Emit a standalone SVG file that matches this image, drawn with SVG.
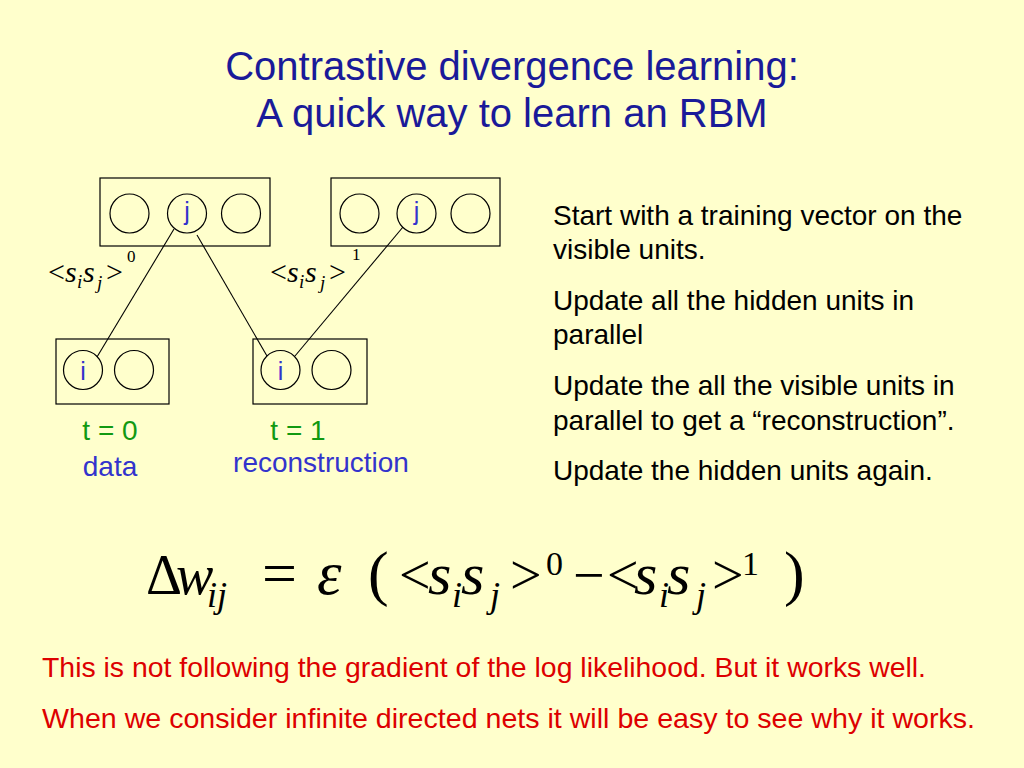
<svg xmlns="http://www.w3.org/2000/svg" width="1024" height="768" viewBox="0 0 1024 768">
<style>
.box{fill:none;stroke:#000;stroke-width:1.2}
.unit{fill:none;stroke:#000;stroke-width:1.2}
.con{stroke:#000;stroke-width:1.1;fill:none}
.sans{font-family:"Liberation Sans",Arial,sans-serif}
.serif{font-family:"Liberation Serif","Times New Roman",serif}
.title{font-size:40px;fill:#1a1a99;text-anchor:middle}
.lbl{font-size:28px;fill:#3333cc;text-anchor:middle}
.t{font-size:28px;fill:#119911;text-anchor:middle}
.body{font-size:28px;fill:#000}
.red{font-size:28px;fill:#dd0000}
.it{font-style:italic}
.sub{font-size:36px;font-style:italic}
.sup{font-size:34px}
.lsub{font-size:19px;font-style:italic}
.lsup{font-size:17px}
</style>
<rect width="1024" height="768" fill="#ffffcc"/>
<g id="title" class="sans">
<text class="title" x="512" y="80">Contrastive divergence learning:</text>
<text class="title" x="512" y="127">A quick way to learn an RBM</text>
</g>
<g id="connectors">
<line class="con" x1="174" y1="229" x2="97" y2="357"/>
<line class="con" x1="197" y1="235" x2="267" y2="356"/>
<line class="con" x1="403" y1="227" x2="295" y2="356"/>
</g>
<g id="hidden-t0">
<rect class="box" x="100" y="178" width="170" height="68"/>
<circle class="unit" cx="129.5" cy="213.5" r="19.5"/>
<circle class="unit" cx="187" cy="213.5" r="19.5"/>
<circle class="unit" cx="241" cy="213.5" r="19.5"/>
<text class="sans lbl" x="187" y="220" style="font-size:25px">j</text>
</g>
<g id="hidden-t1">
<rect class="box" x="331" y="178" width="169" height="68"/>
<circle class="unit" cx="359.5" cy="213.5" r="19.5"/>
<circle class="unit" cx="416.5" cy="213.5" r="19.5"/>
<circle class="unit" cx="470.5" cy="213.5" r="19.5"/>
<text class="sans lbl" x="416.5" y="220" style="font-size:25px">j</text>
</g>
<g id="visible-t0">
<rect class="box" x="56" y="339" width="113" height="65"/>
<circle class="unit" cx="83" cy="370" r="19.5"/>
<circle class="unit" cx="134" cy="370" r="19.5"/>
<text class="sans lbl" x="83" y="380" style="font-size:25px">i</text>
</g>
<g id="visible-t1">
<rect class="box" x="253" y="339" width="114" height="65"/>
<circle class="unit" cx="280.5" cy="370" r="19.5"/>
<circle class="unit" cx="331.5" cy="370" r="19.5"/>
<text class="sans lbl" x="280.5" y="380" style="font-size:25px">i</text>
</g>
<g id="label-s0" class="serif" style="font-size:30px">
<text y="282"><tspan x="48">&lt;</tspan><tspan x="65" class="it">s</tspan><tspan x="77" y="288" class="lsub">i</tspan><tspan x="83" y="282" class="it">s</tspan><tspan x="97" y="289" class="lsub">j</tspan><tspan x="106" y="282">&gt;</tspan><tspan x="127" y="262" class="lsup">0</tspan></text>
</g>
<g id="label-s1" class="serif" style="font-size:30px">
<text y="282"><tspan x="270">&lt;</tspan><tspan x="287" class="it">s</tspan><tspan x="299" y="288" class="lsub">i</tspan><tspan x="305" y="282" class="it">s</tspan><tspan x="320" y="289" class="lsub">j</tspan><tspan x="329" y="282">&gt;</tspan><tspan x="352" y="260" class="lsup">1</tspan></text>
</g>
<g id="time-labels" class="sans">
<text class="t" x="110" y="440">t = 0</text>
<text class="lbl" x="110" y="476">data</text>
<text class="t" x="298" y="440">t = 1</text>
<text class="lbl" x="321" y="472">reconstruction</text>
</g>
<g id="steps" class="sans body">
<text x="553" y="225">Start with a training vector on the</text>
<text x="553" y="259">visible units.</text>
<text x="553" y="310">Update all the hidden units in</text>
<text x="553" y="344">parallel</text>
<text x="553" y="395">Update the all the visible units in</text>
<text x="553" y="430">parallel to get a “reconstruction”.</text>
<text x="553" y="480">Update the hidden units again.</text>
</g>
<g id="formula" class="serif" style="font-size:56px">
<text y="594"><tspan x="146">Δ</tspan><tspan x="176" class="it">w</tspan><tspan x="207" y="607" class="sub">ij</tspan><tspan x="262" y="594" style="font-size:62px">=</tspan><tspan x="317" class="it" style="font-size:62px">ε</tspan><tspan x="368" style="font-size:62px">(</tspan><tspan x="399">&lt;</tspan><tspan x="428" class="it" style="font-size:60px">s</tspan><tspan x="452" y="607" class="sub">i</tspan><tspan x="461" y="594" class="it" style="font-size:60px">s</tspan><tspan x="490" y="607" class="sub">j</tspan><tspan x="510" y="594">&gt;</tspan><tspan x="546" y="575" class="sup">0</tspan><tspan x="573" y="594">−</tspan><tspan x="607">&lt;</tspan><tspan x="634" class="it" style="font-size:60px">s</tspan><tspan x="659" y="607" class="sub">i</tspan><tspan x="667" y="594" class="it" style="font-size:60px">s</tspan><tspan x="696" y="607" class="sub">j</tspan><tspan x="712" y="594">&gt;</tspan><tspan x="742" y="575" class="sup">1</tspan><tspan x="784" y="594" style="font-size:62px">)</tspan></text>
</g>
<g id="notes" class="sans red">
<text x="42" y="677" textLength="884" lengthAdjust="spacingAndGlyphs">This is not following the gradient of the log likelihood. But it works well.</text>
<text x="42" y="728" textLength="933" lengthAdjust="spacingAndGlyphs">When we consider  infinite directed nets it will be easy to see why it works.</text>
</g>
</svg>
